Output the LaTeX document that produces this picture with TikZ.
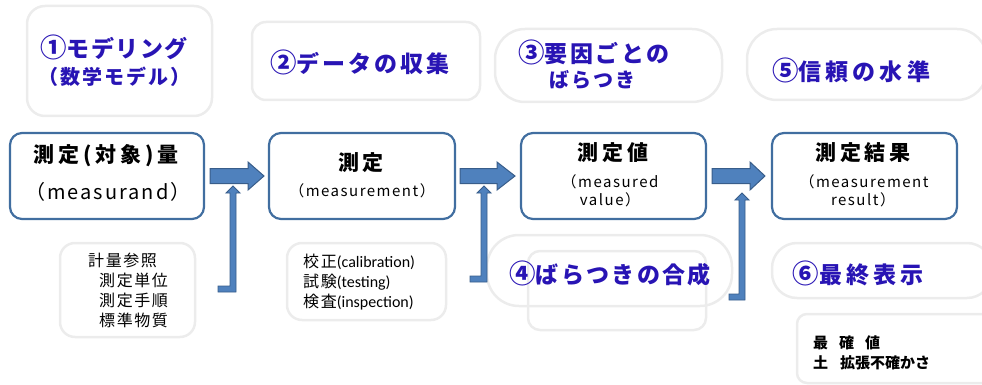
\documentclass[tikz,border=0pt]{standalone}
\usepackage{fontspec}
\setmainfont{Noto Sans CJK JP}
\newfontfamily\jpsp{Noto Sans CJK JP}[LetterSpace=10]
\newfontfamily\jpspb{Noto Sans CJK JP}[LetterSpace=18]
\newfontfamily\carl{Carlito}
\definecolor{hdblue}{RGB}{40,20,180}
\definecolor{lgray}{RGB}{236,236,236}
\definecolor{bborder}{RGB}{65,110,160}
\definecolor{afill}{RGB}{79,129,189}
\definecolor{aborder}{RGB}{56,93,138}
\newcommand{\cnum}[1]{\scalebox{1.15}{#1}}
\begin{document}
\begin{tikzpicture}[x=1pt,y=-1pt,
  lbox/.style={draw=lgray,line width=2.5pt,rounded corners=#1,inner sep=0pt},
  bbox/.style={draw=bborder,line width=2.2pt,rounded corners=12pt,inner sep=0pt,
     minimum width=#1,minimum height=86pt},
  hd/.style={text=hdblue,inner sep=0pt,font={\jpsp\bfseries\fontsize{23}{25}\selectfont\addfontfeature{LetterSpace=#1}}},
  hds/.style={text=hdblue,inner sep=0pt,font=\jpsp\bfseries\fontsize{20}{22}\selectfont},
  ttl/.style={inner sep=0pt,font=\jpspb\bfseries\fontsize{21}{24}\selectfont},
  sub/.style={inner sep=0pt,font=\jpsp\fontsize{15}{17}\selectfont},
  sml/.style={inner sep=0pt,anchor=west,font=\jpsp\fontsize{16}{18}\selectfont},
  smb/.style={inner sep=0pt,anchor=west,font=\fontsize{15}{17}\selectfont\bfseries},
  harrow/.style={fill=afill,draw=aborder,line width=1pt,line join=miter},
  varrow/.style={fill=afill,draw=aborder,line width=0.9pt,line join=miter}
]
\useasboundingbox (0,0) rectangle (982,385);

% light boxes
\node[lbox=18pt,minimum width=185pt,minimum height=110pt] (m1) at (119.5,61) {};
\node[lbox=14pt,minimum width=228pt,minimum height=78pt] (m2) at (366,61) {};
\node[lbox=30pt,minimum width=227pt,minimum height=73pt] (m3) at (608.5,65.5) {};
\node[lbox=30pt,minimum width=240pt,minimum height=71pt] (m5) at (867,64.5) {};
\node[lbox=32pt,minimum width=245pt,minimum height=71pt] (m4o) at (609.5,270.5) {};
\node[lbox=12pt,minimum width=178pt,minimum height=79pt] (m4i) at (617,290.5) {};
\node[lbox=25pt,minimum width=220pt,minimum height=55pt] (m6) at (882,270.5) {};
\node[lbox=10pt,minimum width=195pt,minimum height=69pt] (m7) at (894.5,348.5) {};
\node[lbox=15pt,minimum width=135pt,minimum height=94pt] (s1) at (127.5,290) {};
\node[lbox=15pt,minimum width=159pt,minimum height=77pt] (s2) at (366.5,281.5) {};

% blue boxes
\node[bbox=194pt] (b1) at (107,176) {};
\node[bbox=186pt] (b2) at (362,176) {};
\node[bbox=185pt] (b3) at (613.5,176) {};
\node[bbox=185pt] (b4) at (864.5,176) {};

% headings
\node[hd=6] (t1) at (114,47) {\cnum{①}モデリング};
\node[hds] (t1b) at (114,77) {（数学モデル）};
\node[hd=13] (t2) at (360,62) {\cnum{②}データの収集};
\node[hd=11] (t3) at (594,52) {\cnum{③}要因ごとの};
\node[hds] (t3b) at (592,80) {ばらつき};
\node[hd=18] (t5) at (851,70) {\cnum{⑤}信頼の水準};
\node[hd=10] (t4) at (610,273) {\cnum{④}ばらつきの合成};
\node[hd=18] (t6) at (858,273) {\cnum{⑥}最終表示};

% box texts
\node[ttl] (l1) at (106,156) {測定(対象)量};
\node[sub,font=\jpsp\fontsize{20}{22}\selectfont] (l1b) at (108,192) {（measurand）};
\node[ttl] (l2) at (361,163) {測定};
\node[sub] (l2b) at (362,191) {（measurement）};
\node[ttl] (l3) at (613,153) {測定値};
\node[sub] (l3b) at (610,182) {（measured};
\node[sub] (l3c) at (610,200) {value）};
\node[ttl] (l4) at (863,153) {測定結果};
\node[sub] (l4b) at (864,182) {（measurement};
\node[sub] (l4c) at (863,200) {result）};

% small texts
\node[sml] (s1a) at (88,260) {計量参照};
\node[sml] (s1b) at (99,280) {測定単位};
\node[sml] (s1c) at (99,300) {測定手順};
\node[sml] (s1d) at (99,320) {標準物質};
\node[sml] (s2a) at (303,262) {校正{\carl\fontsize{16}{18}\selectfont(calibration)}};
\node[sml] (s2b) at (303,282) {試験{\carl\fontsize{16}{18}\selectfont(testing)}};
\node[sml] (s2c) at (303,302) {検査{\carl\fontsize{16}{18}\selectfont(inspection)}};
\node[smb] (r1) at (813,343) {最\hspace{11pt}確\hspace{11pt}値};
\node[smb] (r2) at (813,363) {土\hspace{12pt}拡張不確かさ};

% horizontal block arrows
\foreach \xs/\xh/\xt in {210/248/264, 460/497/515, 712/750/765}{
  \draw[harrow] (\xs,168.5) -- (\xh,168.5) -- (\xh,162) -- (\xt,176) -- (\xh,190) -- (\xh,183.5) -- (\xs,183.5) -- cycle;
}
% bent-up arrows
\foreach \xc/\yt/\yb/\xl in {233/186/292/218, 484/186/282/470, 742/193/300/729}{
  \draw[varrow] (\xl,\yb) -- (\xc+3,\yb) -- (\xc+3,\yt+7) -- (\xc+7,\yt+7) -- (\xc,\yt) -- (\xc-7,\yt+7) -- (\xc-3,\yt+7) -- (\xc-3,\yb-6) -- (\xl,\yb-6) -- cycle;
}
\end{tikzpicture}
\end{document}
